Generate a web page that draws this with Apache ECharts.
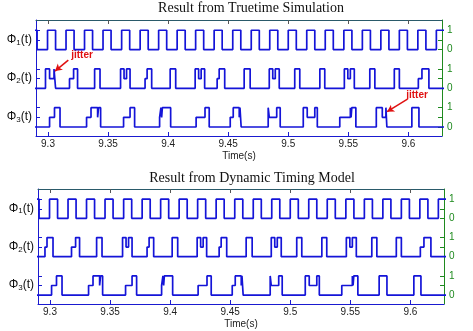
<!DOCTYPE html>
<html>
<head>
<meta charset="utf-8">
<script src="https://cdn.jsdelivr.net/npm/echarts@6/dist/echarts.min.js"></script>
<style>
  html, body { margin: 0; padding: 0; background: #fff; }
  #chart { width: 473px; height: 331px; }
</style>
</head>
<body>
<div id="chart"></div>
<script>
// x axis ticks
const xTicks = [9.3, 9.35, 9.4, 9.45, 9.5, 9.55, 9.6];
const xTickLabels = ['9.3', '9.35', '9.4', '9.45', '9.5', '9.55', '9.6'];
const titles = ['Result from Truetime Simulation', 'Result from Dynamic Timing Model'];
const signalLabels = ['{b|Φ}{s|3}{b|(t)}', '{b|Φ}{s|2}{b|(t)}', '{b|Φ}{s|1}{b|(t)}'];

// [time, level]  level: 0 idle, 0.5 waiting, 1 running
const phi1 = [
  [9.2800, 0], [9.2842, 1], [9.2909, 0], [9.2996, 1], [9.3063, 0], [9.3150, 1], [9.3217, 0],
  [9.3304, 1], [9.3371, 0], [9.3458, 1], [9.3525, 0], [9.3613, 1], [9.3680, 0],
  [9.3767, 1], [9.3834, 0], [9.3921, 1], [9.3988, 0], [9.4075, 1], [9.4142, 0],
  [9.4229, 1], [9.4296, 0], [9.4383, 1], [9.4450, 0], [9.4538, 1], [9.4605, 0],
  [9.4692, 1], [9.4759, 0], [9.4846, 1], [9.4913, 0], [9.5000, 1], [9.5067, 0],
  [9.5154, 1], [9.5221, 0], [9.5308, 1], [9.5375, 0], [9.5463, 1], [9.5530, 0],
  [9.5617, 1], [9.5684, 0], [9.5771, 1], [9.5838, 0], [9.5925, 1], [9.5992, 0],
  [9.6079, 1], [9.6146, 0], [9.6233, 1], [9.6400, 1]
];

const phi2Sim = [
  [9.2800, 0], [9.2979, 1], [9.3013, 0.5], [9.3050, 1], [9.3063, 0],
  [9.3179, 0.5], [9.3213, 1], [9.3246, 0],
  [9.3388, 1], [9.3433, 0],
  [9.3604, 1], [9.3633, 0.5], [9.3654, 1], [9.3683, 0],
  [9.3808, 0.5], [9.3825, 1], [9.3863, 0],
  [9.4017, 1], [9.4063, 0],
  [9.4225, 1], [9.4254, 0.5], [9.4275, 1], [9.4304, 0],
  [9.4408, 0.5], [9.4425, 1], [9.4471, 0],
  [9.4633, 1], [9.4683, 0],
  [9.4842, 1], [9.4871, 0.5], [9.4892, 1], [9.4925, 0],
  [9.5054, 1], [9.5096, 0],
  [9.5263, 1], [9.5304, 0],
  [9.5467, 1], [9.5496, 0.5], [9.5517, 1], [9.5550, 0],
  [9.5679, 1], [9.5721, 0],
  [9.5883, 1], [9.5925, 0],
  [9.6083, 0.5], [9.6113, 1], [9.6171, 0],
  [9.6400, 0]
];

const phi3Sim = [
  [9.2800, 0],
  [9.3013, 0.5], [9.3054, 1], [9.3100, 0],
  [9.3321, 0.5], [9.3358, 1], [9.3413, 0.5], [9.3421, 1], [9.3438, 0],
  [9.3629, 0.5], [9.3683, 1], [9.3721, 0],
  [9.3929, 0.5], [9.3940, 1], [9.3946, 0.5], [9.3952, 1], [9.4021, 0],
  [9.4233, 0.5], [9.4307, 1], [9.4342, 0],
  [9.4517, 0.5], [9.4542, 1], [9.4592, 0.5], [9.4598, 1], [9.4608, 0],
  [9.4833, 1], [9.4842, 0.5], [9.4904, 1], [9.4933, 0],
  [9.5125, 1], [9.5158, 0.5], [9.5221, 1], [9.5242, 0],
  [9.5429, 0.5], [9.5517, 1], [9.5523, 0.5], [9.5529, 1], [9.5563, 0],
  [9.5733, 1], [9.5783, 0.5], [9.5813, 1], [9.5821, 0],
  [9.6029, 1], [9.6088, 0],
  [9.6400, 0]
];

const phi2Model = [
  [9.2800, 0], [9.2958, 0.5], [9.2975, 1], [9.3025, 0],
  [9.3179, 0.5], [9.3213, 1], [9.3246, 0],
  [9.3388, 1], [9.3433, 0],
  [9.3604, 1], [9.3633, 0.5], [9.3654, 1], [9.3683, 0],
  [9.3808, 0.5], [9.3825, 1], [9.3863, 0],
  [9.4017, 1], [9.4063, 0],
  [9.4225, 1], [9.4254, 0.5], [9.4275, 1], [9.4304, 0],
  [9.4408, 0.5], [9.4425, 1], [9.4471, 0],
  [9.4633, 1], [9.4683, 0],
  [9.4842, 1], [9.4871, 0.5], [9.4892, 1], [9.4925, 0],
  [9.5054, 1], [9.5096, 0],
  [9.5263, 1], [9.5304, 0],
  [9.5467, 1], [9.5496, 0.5], [9.5517, 1], [9.5550, 0],
  [9.5679, 1], [9.5721, 0],
  [9.5883, 1], [9.5925, 0],
  [9.6083, 0.5], [9.6113, 1], [9.6171, 0],
  [9.6400, 0]
];

const phi3Model = [
  [9.2800, 0],
  [9.3013, 0.5], [9.3054, 1], [9.3100, 0],
  [9.3321, 0.5], [9.3358, 1], [9.3413, 0.5], [9.3421, 1], [9.3438, 0],
  [9.3629, 0.5], [9.3683, 1], [9.3721, 0],
  [9.3929, 0.5], [9.3940, 1], [9.3946, 0.5], [9.3952, 1], [9.4021, 0],
  [9.4233, 0.5], [9.4307, 1], [9.4342, 0],
  [9.4517, 0.5], [9.4542, 1], [9.4592, 0.5], [9.4598, 1], [9.4608, 0],
  [9.4833, 1], [9.4842, 0.5], [9.4904, 1], [9.4933, 0],
  [9.5125, 1], [9.5158, 0.5], [9.5221, 1], [9.5242, 0],
  [9.5429, 0.5], [9.5517, 1], [9.5523, 0.5], [9.5529, 1], [9.5563, 0],
  [9.5740, 1], [9.5805, 0],
  [9.6029, 1], [9.6088, 0],
  [9.6400, 0]
];

// each signal drawn on its own band of the y axis
const bandOffset = { phi1: 4, phi2: 2, phi3: 0 };

const BLUE = '#1a1ad0';
const GREEN = '#1f8a1f';
const LINE = '#1414d8';

const chart = echarts.init(document.getElementById('chart'));

const shift = (pts, off) => pts.map(p => [p[0], p[1] + off]);

function xAxes(grid) {
  return [
    {
      gridIndex: grid, type: 'value', position: 'bottom', min: 9.29, max: 9.628,
      axisLine: { onZero: false, lineStyle: { color: BLUE, width: 1 } },
      axisTick: { inside: true, length: 4, customValues: xTicks, lineStyle: { color: BLUE } },
      axisLabel: {
        customValues: xTicks, margin: 3, color: '#222', fontSize: 10, fontFamily: 'Liberation Sans',
        formatter: v => xTickLabels[xTicks.indexOf(v)] || ''
      },
      splitLine: { show: false },
      name: 'Time(s)', nameLocation: 'middle', nameGap: 15,
      nameTextStyle: { color: '#222', fontSize: 10, fontFamily: 'Liberation Sans' }
    },
    {
      gridIndex: grid, type: 'value', position: 'top', min: 9.29, max: 9.628,
      axisLine: { onZero: false, lineStyle: { color: '#2a5a6a', width: 1 } },
      axisTick: { inside: true, length: 4, customValues: xTicks, lineStyle: { color: '#555' } },
      axisLabel: { show: false },
      splitLine: { show: false }
    }
  ];
}

function yAxes(grid) {
  return [
    {
      gridIndex: grid, type: 'value', position: 'left', min: -0.465, max: 5.53,
      axisLine: { show: true, onZero: false, lineStyle: { color: BLUE, width: 1 } },
      axisTick: { show: true, inside: true, length: 4, customValues: [0.5, 1, 2.5, 3, 4.5, 5], lineStyle: { color: BLUE } },
      axisLabel: {
        customValues: [0.5, 2.5, 4.5], margin: 4,
        formatter: v => signalLabels[Math.round((v - 0.5) / 2)],
        rich: {
          b: { fontSize: 12, fontFamily: 'Liberation Sans', color: '#111', lineHeight: 13, verticalAlign: 'top' },
          s: { fontSize: 8, fontFamily: 'Liberation Sans', color: '#111', lineHeight: 9, verticalAlign: 'bottom' }
        }
      },
      splitLine: { show: false }
    },
    {
      gridIndex: grid, type: 'value', position: 'right', min: -0.465, max: 5.53,
      axisLine: { show: true, onZero: false, lineStyle: { color: GREEN, width: 1 } },
      axisTick: { show: true, inside: true, length: 4, customValues: [0, 0.5, 1, 2, 2.5, 3, 4, 4.5, 5], lineStyle: { color: GREEN } },
      axisLabel: {
        customValues: [0, 1, 2, 3, 4, 5], margin: 5, color: GREEN, fontSize: 10, fontFamily: 'Liberation Sans',
        formatter: v => (Math.round(v) % 2 === 0 ? '0' : '1')
      },
      splitLine: { show: false }
    }
  ];
}

function signal(pts, grid, off, markLine) {
  const s = {
    type: 'line', step: 'end', xAxisIndex: grid * 2, yAxisIndex: grid * 2,
    data: shift(pts, off), showSymbol: false, animation: false, silent: true,
    lineStyle: { color: LINE, width: 1.7 }
  };
  if (markLine) {
    s.markLine = {
      silent: true, animation: false, symbol: ['none', 'arrow'], symbolSize: [6, 7],
      label: { show: false }, lineStyle: { color: '#e01010', width: 1.5, type: 'solid' },
      data: [markLine]
    };
  }
  return s;
}

const arrowTop = [{ coord: [9.3169, 3.46] }, { coord: [9.3058, 2.89] }];
const arrowBottom = [{ coord: [9.5989, 1.43] }, { coord: [9.5823, 0.79] }];

chart.setOption({
  animation: false,
  grid: [
    { left: 36, top: 20, width: 406, height: 116 },
    { left: 38, top: 189, width: 406, height: 115 }
  ],
  xAxis: [...xAxes(0), ...xAxes(1)],
  yAxis: [...yAxes(0), ...yAxes(1)],
  series: [
    signal(phi1, 0, bandOffset.phi1),
    signal(phi2Sim, 0, bandOffset.phi2, arrowTop),
    signal(phi3Sim, 0, bandOffset.phi3, arrowBottom),
    signal(phi1, 1, bandOffset.phi1),
    signal(phi2Model, 1, bandOffset.phi2),
    signal(phi3Model, 1, bandOffset.phi3)
  ],
  graphic: [
    { type: 'text', x: 251, y: 8, style: { text: titles[0], textAlign: 'center', textVerticalAlign: 'middle', font: '14px "Liberation Serif"', fill: '#111' } },
    { type: 'text', x: 252, y: 178, style: { text: titles[1], textAlign: 'center', textVerticalAlign: 'middle', font: '14px "Liberation Serif"', fill: '#111' } },
    { type: 'text', x: 82, y: 55, style: { text: 'jitter', textAlign: 'center', textVerticalAlign: 'middle', font: 'bold 10px "Liberation Sans"', fill: '#e01010' } },
    { type: 'text', x: 417, y: 95, style: { text: 'jitter', textAlign: 'center', textVerticalAlign: 'middle', font: 'bold 10px "Liberation Sans"', fill: '#e01010' } }
  ]
});
</script>
</body>
</html>
